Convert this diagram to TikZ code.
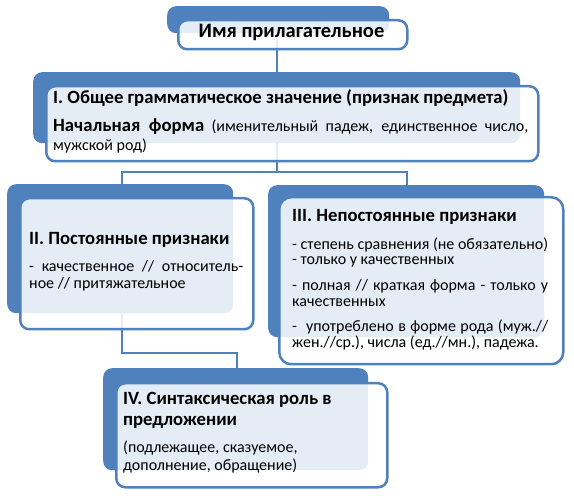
\documentclass[tikz,border=0pt]{standalone}
\usepackage{fontspec}
\setmainfont{Carlito}
\definecolor{sablue}{HTML}{4F81BD}
\begin{document}
\begin{tikzpicture}[x=1pt,y=-1pt,
  back/.style={fill=sablue, draw=none, rounded corners=9pt, anchor=north west, inner sep=0pt},
  front/.style={fill=white, fill opacity=0.85, draw=sablue, draw opacity=1, line width=2.5pt, rounded corners=9pt, anchor=north west, inner sep=0pt},
  link/.style={draw=sablue, line width=2pt},
  ttl/.style={anchor=base west, inner sep=0pt, font=\fontsize{18.7}{21}\selectfont\bfseries},
  bdy/.style={anchor=base west, inner sep=0pt, font=\fontsize{16}{18}\selectfont}]
\useasboundingbox (0,0) rectangle (574,500);
% connector guide coordinates
\coordinate (c0) at (277,0);
\coordinate (c2) at (122,0);
\coordinate (c3) at (407,0);
\coordinate (c4) at (237,0);
\coordinate (jI) at (277,172);
\coordinate (jII) at (122,353);
% boxes: back then front
\node[back, minimum width=222pt, minimum height=27pt] (Tb) at (167,6) {};
\node[back, minimum width=487pt, minimum height=71pt] (Ib) at (33,72) {};
\node[back, minimum width=226pt, minimum height=129pt] (IIb) at (7,184) {};
\node[back, minimum width=276pt, minimum height=152pt] (IIIb) at (268,185) {};
\node[back, minimum width=265pt, minimum height=102pt] (IVb) at (103,368) {};
% connectors
\draw[link] (c0 |- Tb.south) -- (c0 |- Ib.north);
\draw[link] (c0 |- Ib.south) -- (jI);
\draw[link] (c2 |- IIb.north) -- (c2 |- jI) -- (c3 |- jI) -- (c3 |- IIIb.north);
\draw[link] (c2 |- IIb.south) -- (jII) -- (c4 |- jII) -- (c4 |- IVb.north);
% fronts
\node[front, minimum width=229pt, minimum height=29pt] (Tf) at (177,19) {};
\node[front, minimum width=492pt, minimum height=75pt] (If) at (45,85) {};
\node[front, minimum width=233pt, minimum height=131pt] (IIf) at (19,197) {};
\node[front, minimum width=284pt, minimum height=167pt, rounded corners=12pt] (IIIf) at (278,196) {};
\node[front, minimum width=271pt, minimum height=104pt] (IVf) at (115,382) {};
% texts
\node[anchor=base, inner sep=0pt, font=\fontsize{20.5}{24}\selectfont\bfseries] (t0) at (291.5,38) {Имя прилагательное};
\node[ttl] (t1a) at (53,104) {I. Общее грамматическое значение (признак предмета)};
\node[bdy] (t1b) at (53,132) {\makebox[475pt][s]{{\fontsize{18.7}{21}\selectfont\bfseries Начальная форма} (именительный падеж, единственное число,}};
\node[bdy] (t1c) at (53,151) {мужской род)};
\node[ttl] (t2a) at (29,245) {II. Постоянные признаки};
\node[bdy] (t2b) at (29,272) {\makebox[214pt][s]{- качественное // относитель-}};
\node[bdy] (t2c) at (29,289) {ное // притяжательное};
\node[ttl] (t3a) at (292,222) {III. Непостоянные признаки};
\node[bdy] (t3b) at (292,250) {\makebox[256pt][s]{- степень сравнения (не обязательно)}};
\node[bdy] (t3c) at (292,265) {- только у качественных};
\node[bdy] (t3d) at (292,291) {\makebox[256pt][s]{- полная // краткая форма - только у}};
\node[bdy] (t3e) at (292,307) {качественных};
\node[bdy] (t3f) at (292,331) {\makebox[256pt][s]{-\ \ употреблено в форме рода (муж.//}};
\node[bdy] (t3g) at (292,348) {жен.//ср.), числа (ед.//мн.), падежа.};
\node[ttl] (t4a) at (123,405) {IV. Синтаксическая роль в};
\node[ttl] (t4b) at (123,425) {предложении};
\node[bdy] (t4c) at (123,452) {(подлежащее, сказуемое,};
\node[bdy] (t4d) at (123,471) {дополнение, обращение)};
\end{tikzpicture}
\end{document}
